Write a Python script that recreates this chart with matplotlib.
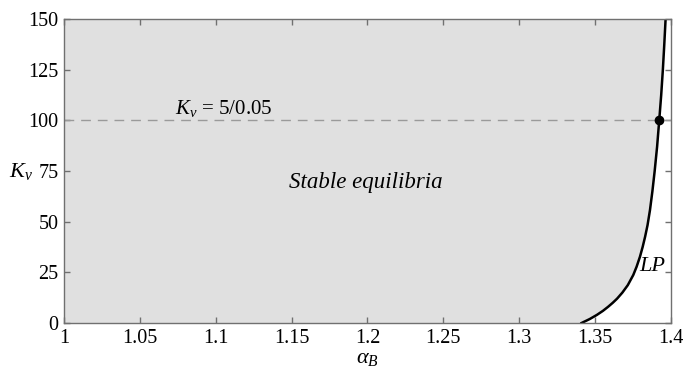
import numpy as np
import matplotlib
matplotlib.use('Agg')
from matplotlib import pyplot as plt

# LP curve (alpha_B, K_v)
lp_alpha = [1.3411, 1.3466, 1.3512, 1.3552, 1.3586, 1.3617, 1.3645, 1.3680, 1.3716, 1.3752,
            1.3774, 1.3796, 1.3814, 1.3830, 1.3846, 1.3862, 1.3878, 1.3893, 1.3909, 1.3923,
            1.3936, 1.3947, 1.3956, 1.3965]
lp_kv = [0, 2, 4, 6, 8, 10, 12, 15, 18.7, 23.7,
         27.8, 32.7, 37.6, 42.6, 48.3, 55.7, 65, 75, 87, 100,
         112.5, 125, 137, 150]

kv_ref = 100
alpha_ref = 1.3923

x_ticks = [1, 1.05, 1.1, 1.15, 1.2, 1.25, 1.3, 1.35, 1.4]
x_tick_labels = ['1', '1.05', '1.1', '1.15', '1.2', '1.25', '1.3', '1.35', '1.4']
y_ticks = [0, 25, 50, 75, 100, 125, 150]

plt.rcParams['font.family'] = ['Liberation Serif', 'DejaVu Serif']
plt.rcParams['mathtext.fontset'] = 'custom'
plt.rcParams['mathtext.rm'] = 'Liberation Serif'
plt.rcParams['mathtext.it'] = 'Liberation Serif:italic'

fig = plt.figure(figsize=(6.86, 3.70), dpi=100)
ax = fig.add_axes([0.0933, 0.127, 0.8847, 0.8216])

# stable region, left of the LP curve
ax.fill_betweenx(lp_kv, 1.0, lp_alpha, color='#e0e0e0', linewidth=0)
ax.plot(lp_alpha, lp_kv, color='black', linewidth=1.8, solid_joinstyle='round')

# reference line K_v = 5/0.05
ax.axhline(kv_ref, color='#9a9a9a', linewidth=1, dashes=(7, 5))
ax.plot([alpha_ref], [kv_ref], 'o', color='black', markersize=6)

ax.text(1.073, 106, r'$K_v$ = 5/0.05', fontsize=15, va='center', ha='left')
ax.text(1.199, 69.5, 'Stable equilibria', fontsize=16.5, style='italic', va='center', ha='center')
ax.text(1.3792, 27.7, 'LP', fontsize=16, style='italic', va='center', ha='left')

ax.set_xlim(1, 1.4)
ax.set_ylim(0, 150)
ax.set_xticks(x_ticks)
ax.set_xticklabels(x_tick_labels)
ax.set_yticks(y_ticks)
ax.tick_params(direction='in', length=4, width=1, color='#707070', labelsize=14.5,
               top=True, right=True, pad=4)
for s in ax.spines.values():
    s.set_color('#707070')
    s.set_linewidth(1)

ax.set_xlabel(r'$\alpha_B$', fontsize=16, labelpad=1)
ax.set_ylabel(r'$K_v$', fontsize=16, rotation=0, va='center', ha='center')
ax.yaxis.set_label_coords(-0.071, 0.5)

plt.savefig('out.png', dpi=100)
